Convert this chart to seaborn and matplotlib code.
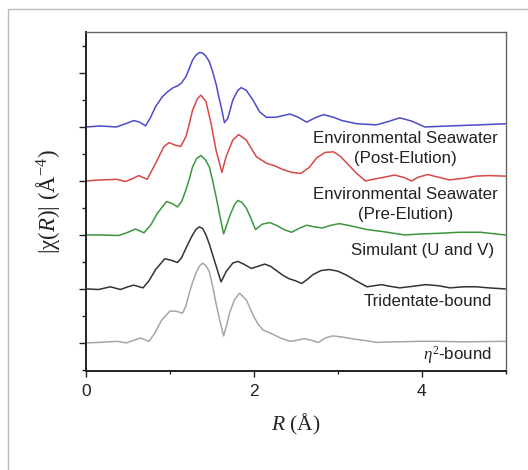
import numpy as np
import pandas as pd
import matplotlib
matplotlib.use("Agg")
import matplotlib.pyplot as plt
from matplotlib.ticker import MultipleLocator, FixedLocator
from matplotlib.patches import Rectangle
import seaborn as sns

# ---------------- data ----------------
samples = ["Environmental Seawater (Post-Elution)",
           "Environmental Seawater (Pre-Elution)",
           "Simulant (U and V)",
           "Tridentate-bound",
           "eta2-bound"]
labels = ["Environmental Seawater\n(Post-Elution)",
          "Environmental Seawater\n(Pre-Elution)",
          "Simulant (U and V)",
          "Tridentate-bound",
          r"$\eta^{2}$-bound"]

post_r = [0, 0.17, 0.36, 0.47, 0.57, 0.64, 0.71, 0.77, 0.83, 0.91, 0.97, 1.04, 1.09, 1.14, 1.19,
          1.23, 1.27, 1.31, 1.35, 1.39, 1.43, 1.47, 1.51, 1.55, 1.58, 1.61, 1.65, 1.69, 1.75, 1.81,
          1.85, 1.91, 1.99, 2.07, 2.15, 2.26, 2.43, 2.53, 2.63, 2.73, 2.83, 2.95, 3.05, 3.23, 3.46,
          3.60, 3.74, 3.88, 4.04, 4.34, 4.69, 5.0]
post_chi = [0.00, 0.02, 0.00, 0.06, 0.12, 0.09, 0.02, 0.18, 0.38, 0.56, 0.65, 0.73, 0.76, 0.82, 0.93,
            1.08, 1.24, 1.33, 1.38, 1.37, 1.31, 1.21, 1.02, 0.80, 0.58, 0.38, 0.08, 0.16, 0.50, 0.68,
            0.73, 0.68, 0.50, 0.28, 0.18, 0.18, 0.24, 0.18, 0.09, 0.17, 0.23, 0.18, 0.12, 0.06, 0.04,
            0.10, 0.17, 0.11, 0.00, 0.02, 0.04, 0.06]

pre_r = [0, 0.17, 0.37, 0.47, 0.55, 0.63, 0.73, 0.83, 0.93, 0.99, 1.07, 1.13, 1.19, 1.23, 1.27,
         1.33, 1.37, 1.43, 1.49, 1.55, 1.62, 1.67, 1.75, 1.82, 1.91, 2.03, 2.15, 2.25, 2.35, 2.45,
         2.56, 2.66, 2.75, 2.85, 2.95, 3.03, 3.11, 3.22, 3.33, 3.42, 3.52, 3.68, 3.80, 3.88, 3.96,
         4.07, 4.20, 4.33, 4.50, 4.65, 4.80, 5.0]
pre_chi = [0.00, 0.02, 0.03, -0.01, 0.04, 0.10, 0.03, 0.33, 0.64, 0.71, 0.66, 0.64, 0.82, 1.05, 1.31,
           1.53, 1.59, 1.47, 1.07, 0.57, 0.16, 0.45, 0.76, 0.86, 0.76, 0.45, 0.33, 0.28, 0.21, 0.16,
           0.14, 0.25, 0.43, 0.53, 0.54, 0.46, 0.33, 0.15, 0.00, 0.03, 0.06, 0.11, 0.06, 0.00, 0.07,
           0.12, 0.07, 0.02, 0.05, 0.09, 0.10, 0.09]

sim_r = [0, 0.17, 0.39, 0.50, 0.59, 0.69, 0.77, 0.85, 0.96, 1.03, 1.09, 1.14, 1.19, 1.23, 1.27,
         1.32, 1.37, 1.42, 1.47, 1.51, 1.55, 1.60, 1.64, 1.68, 1.72, 1.77, 1.81, 1.86, 1.91, 1.96,
         2.02, 2.10, 2.19, 2.28, 2.36, 2.45, 2.55, 2.63, 2.72, 2.82, 2.92, 3.02, 3.15, 3.35, 3.55,
         3.80, 4.00, 4.20, 4.45, 4.70, 5.0]
sim_chi = [0.00, 0.00, -0.01, 0.05, 0.11, 0.04, 0.18, 0.40, 0.62, 0.58, 0.52, 0.62, 0.83, 1.03, 1.26,
           1.42, 1.47, 1.40, 1.26, 1.00, 0.71, 0.32, 0.02, 0.20, 0.38, 0.56, 0.64, 0.60, 0.50, 0.33,
           0.10, 0.20, 0.23, 0.17, 0.10, 0.05, 0.13, 0.18, 0.15, 0.13, 0.18, 0.21, 0.17, 0.10, 0.06,
           0.00, 0.02, 0.03, 0.05, 0.05, 0.00]

tri_r = [0, 0.15, 0.29, 0.41, 0.50, 0.57, 0.68, 0.75, 0.83, 0.94, 1.02, 1.09, 1.14, 1.19, 1.23,
         1.27, 1.31, 1.35, 1.39, 1.43, 1.47, 1.51, 1.56, 1.61, 1.67, 1.75, 1.81, 1.88, 1.97, 2.05,
         2.13, 2.20, 2.26, 2.35, 2.42, 2.50, 2.57, 2.64, 2.71, 2.80, 2.90, 3.00, 3.10, 3.22, 3.35,
         3.52, 3.62, 3.74, 3.90, 4.05, 4.20, 4.34, 4.50, 4.65, 4.80, 5.0]
tri_chi = [0.00, -0.01, 0.04, -0.01, 0.04, 0.07, 0.02, 0.15, 0.36, 0.56, 0.53, 0.49, 0.58, 0.75, 0.88,
           1.00, 1.10, 1.15, 1.12, 1.00, 0.83, 0.63, 0.38, 0.13, 0.32, 0.48, 0.51, 0.46, 0.38, 0.42,
           0.46, 0.42, 0.35, 0.25, 0.19, 0.15, 0.10, 0.18, 0.27, 0.34, 0.36, 0.33, 0.26, 0.15, 0.04,
           0.08, 0.05, 0.02, 0.05, 0.08, 0.06, 0.02, 0.04, 0.04, 0.02, 0.00]

eta_r = [0, 0.17, 0.37, 0.48, 0.57, 0.65, 0.75, 0.82, 0.90, 1.00, 1.07, 1.15, 1.19, 1.23, 1.27,
         1.31, 1.35, 1.39, 1.43, 1.47, 1.51, 1.55, 1.60, 1.64, 1.68, 1.71, 1.77, 1.83, 1.91, 1.99,
         2.05, 2.11, 2.20, 2.32, 2.43, 2.52, 2.60, 2.68, 2.77, 2.85, 2.94, 3.05, 3.20, 3.35, 3.46,
         3.70, 4.00, 4.14, 4.50, 5.0]
eta_chi = [0.00, 0.01, 0.03, 0.00, 0.05, 0.09, 0.03, 0.18, 0.42, 0.59, 0.59, 0.55, 0.68, 0.92, 1.12,
           1.29, 1.42, 1.48, 1.43, 1.32, 1.05, 0.73, 0.38, 0.13, 0.35, 0.55, 0.80, 0.92, 0.80, 0.52,
           0.35, 0.24, 0.18, 0.09, 0.03, 0.05, 0.08, 0.05, 0.01, 0.09, 0.13, 0.11, 0.07, 0.04, 0.01,
           0.02, 0.03, 0.03, 0.02, 0.03]

series_r = [post_r, pre_r, sim_r, tri_r, eta_r]
series_chi = [post_chi, pre_chi, sim_chi, tri_chi, eta_chi]

# ---------------- layout / style ----------------
offsets = [4, 3, 2, 1, 0]
colors = ["#4b4bcc", "#d84848", "#3c963c", "#333333", "#a6a6a6"]
label_pos = [(4.91, 3.60), (4.91, 2.56), (4.87, 1.71), (4.84, 0.76), (4.84, -0.22)]

sns.set_style("ticks")
plt.rcParams["font.family"] = ["Liberation Sans", "DejaVu Sans"]
plt.rcParams["mathtext.fontset"] = "custom"
plt.rcParams["mathtext.rm"] = "Liberation Serif"
plt.rcParams["mathtext.it"] = "Liberation Serif:italic"

frames = []
for name, r, chi, off in zip(samples, series_r, series_chi, offsets):
    frames.append(pd.DataFrame({"R": r, "y": np.asarray(chi) + off, "sample": name}))
df = pd.concat(frames, ignore_index=True)

fig = plt.figure(figsize=(5.28, 4.70), dpi=100)
ax = fig.add_axes([86 / 528, 1 - 371 / 470, (505.5 - 86) / 528, (371 - 32) / 470])

sns.lineplot(data=df, x="R", y="y", hue="sample", palette=dict(zip(samples, colors)),
             estimator=None, sort=False, legend=False, linewidth=1.1, ax=ax)
for ln in ax.get_lines():
    ln.set_solid_joinstyle("round")

ax.set_xlim(0, 5)
ax.set_ylim(-0.52, 5.76)

ax.xaxis.set_major_locator(FixedLocator([0, 2, 4]))
ax.xaxis.set_minor_locator(FixedLocator([1, 3, 5]))
ax.yaxis.set_major_locator(MultipleLocator(1))
ax.yaxis.set_minor_locator(MultipleLocator(0.5))
ax.set_yticklabels([])
ax.tick_params(axis="x", which="major", direction="out", length=4.5, width=1.0,
               labelsize=12.5, pad=5, colors="#222222")
ax.tick_params(axis="x", which="minor", direction="out", length=2.5, width=1.0, colors="#222222")
ax.tick_params(axis="y", which="major", direction="out", length=5, width=1.0, colors="#222222")
ax.tick_params(axis="y", which="minor", direction="out", length=2.8, width=1.0, colors="#222222")

for s in ["left", "bottom"]:
    ax.spines[s].set_color("#222222")
    ax.spines[s].set_linewidth(1.4)
for s in ["top", "right"]:
    ax.spines[s].set_color("#666666")
    ax.spines[s].set_linewidth(1.0)

ax.set_xlabel(r"$R$ (Å)", fontfamily="Liberation Serif", fontsize=15.5, labelpad=9, color="#222222")
ax.set_ylabel(r"$|\mathrm{\chi}(R)|$ (Å$^{-4}$)", fontfamily="Liberation Serif", fontsize=16.5,
              labelpad=9, color="#222222")

for txt, (tx, ty) in zip(labels, label_pos):
    ax.text(tx, ty, txt, ha="right", va="center", multialignment="center",
            fontsize=12.2, color="#222222", linespacing=1.45)

fig.patches.append(Rectangle((8 / 528, -0.05), 1.2, 1 - 9 / 470 + 0.05, transform=fig.transFigure,
                             fill=False, edgecolor="#bbbbbb", linewidth=1.0))

fig.savefig("out.png", dpi=100)
